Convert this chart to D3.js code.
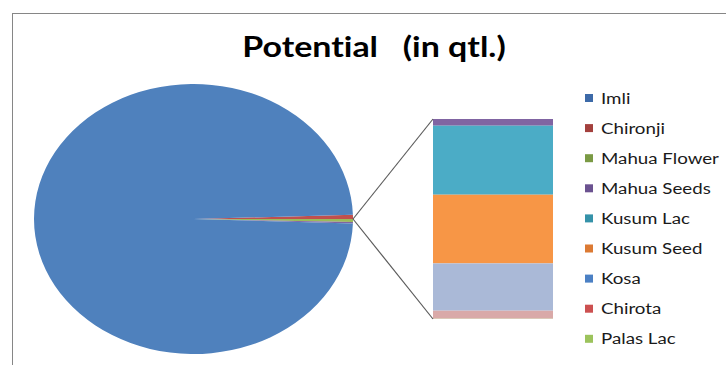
<!DOCTYPE html>
<meta charset='utf-8'>
<style>
body { margin: 0; background: #fff; }
svg { display: block; }
text { font-variant-ligatures: none; }
.title { font-family: Lato, 'Open Sans', sans-serif; font-weight: bold; font-size: 29px; fill: #000; }
.legend text { font-family: Lato, 'Open Sans', sans-serif; font-size: 16px; fill: #1a1a1a; }
</style>
<svg width='726' height='365'></svg>
<script src='https://cdnjs.cloudflare.com/ajax/libs/d3/7.8.5/d3.min.js'></script>
<script>

// categories in legend order, values in qtl.
var categories = ['Imli', 'Chironji', 'Mahua Flower', 'Mahua Seeds', 'Kusum Lac', 'Kusum Seed', 'Kosa', 'Chirota', 'Palas Lac'];
var values = [1188100, 5900, 4300, 67, 690, 687, 473, 80, 3];
var legendColors = ['#3d6aa8', '#a3403d', '#7a9a44', '#6b5290', '#3592a9', '#dc7a33', '#4b80c4', '#cc5050', '#9cc35c'];
var pieColors = ['#4f81bd', '#c0504d', '#9bbb59'];
var otherColor = '#8064a2';
var barColors = ['#8064a2', '#4bacc6', '#f79646', '#aab9d7', '#d9a9a8', '#c6dba0'];
// last six points go to the secondary bar
var secondaryCount = 6;

var svg = d3.select('svg'),
    width = +svg.attr('width'),
    height = +svg.attr('height');

// chart frame (cut off at right and bottom like the screenshot)
svg.append('rect')
    .attr('x', 12.5).attr('y', 13.5)
    .attr('width', width).attr('height', height)
    .attr('fill', '#fff')
    .attr('stroke', '#868686');

// the whole Excel chart is stretched sideways, so text gets a horizontal scale too
var stretch = 1.17;

svg.append('text')
    .attr('class', 'title')
    .attr('transform', 'translate(374,57) scale(' + stretch + ',1)')
    .attr('text-anchor', 'middle')
    .attr('xml:space', 'preserve')
    .text('Potential   (in qtl.)');

var nPrimary = categories.length - secondaryCount;
var primary = categories.slice(0, nPrimary).map(function(c, i) {
    return { name: c, value: values[i], color: pieColors[i] };
});
var secondary = categories.slice(nPrimary).map(function(c, i) {
    return { name: c, value: values[nPrimary + i], color: barColors[i] };
});
var otherSum = d3.sum(secondary, function(d) { return d.value; });
var total = d3.sum(values);

// pie is drawn as a circle then stretched horizontally into an ellipse
var cx = 193.5, cy = 219, ry = 135, rx = 159.5;

// slice order clockwise: Chironji, Mahua Flower, Other, Imli (wraps round)
var pieData = [primary[1], primary[2], { name: 'Other', value: otherSum, color: otherColor }, primary[0]];
var startA = Math.PI / 2 - (primary[1].value / total) * 2 * Math.PI;

var pie = d3.pie()
    .sort(null)
    .value(function(d) { return d.value; })
    .startAngle(startA)
    .endAngle(startA + 2 * Math.PI);

var arc = d3.arc().innerRadius(0).outerRadius(ry);

svg.append('g')
    .attr('transform', 'translate(' + cx + ',' + cy + ') scale(' + (rx / ry) + ',1)')
    .selectAll('path')
    .data(pie(pieData))
    .enter().append('path')
    .attr('d', arc)
    .attr('fill', function(d) { return d.data.color; });

// secondary stacked bar
var barX = 433, barW = 120;
var y = d3.scaleLinear().domain([0, otherSum]).range([119, 319]);
var cum = 0;
secondary.forEach(function(d) { d.y0 = cum; cum += d.value; d.y1 = cum; });

svg.append('g').selectAll('rect')
    .data(secondary)
    .enter().append('rect')
    .attr('x', barX)
    .attr('width', barW)
    .attr('y', function(d) { return y(d.y0); })
    .attr('height', function(d) { return y(d.y1) - y(d.y0); })
    .attr('fill', function(d) { return d.color; });

// connector lines
var px = cx + rx, py = cy;
svg.append('g').selectAll('line')
    .data([y(0), y(otherSum)])
    .enter().append('line')
    .attr('x1', px).attr('y1', py)
    .attr('x2', barX).attr('y2', function(d) { return d; })
    .attr('stroke', '#5a5a5a')
    .attr('stroke-width', 1.2);

// legend
var legend = svg.append('g').attr('class', 'legend');
var rows = legend.selectAll('g')
    .data(categories)
    .enter().append('g')
    .attr('transform', function(d, i) { return 'translate(585,' + (98 + i * 30.1) + ')'; });

rows.append('rect')
    .attr('x', 0).attr('y', -4)
    .attr('width', 8).attr('height', 8)
    .attr('fill', function(d, i) { return legendColors[i]; });

rows.append('text')
    .attr('transform', 'translate(16,5.5) scale(' + stretch + ',1)')
    .text(function(d) { return d; });

</script>
